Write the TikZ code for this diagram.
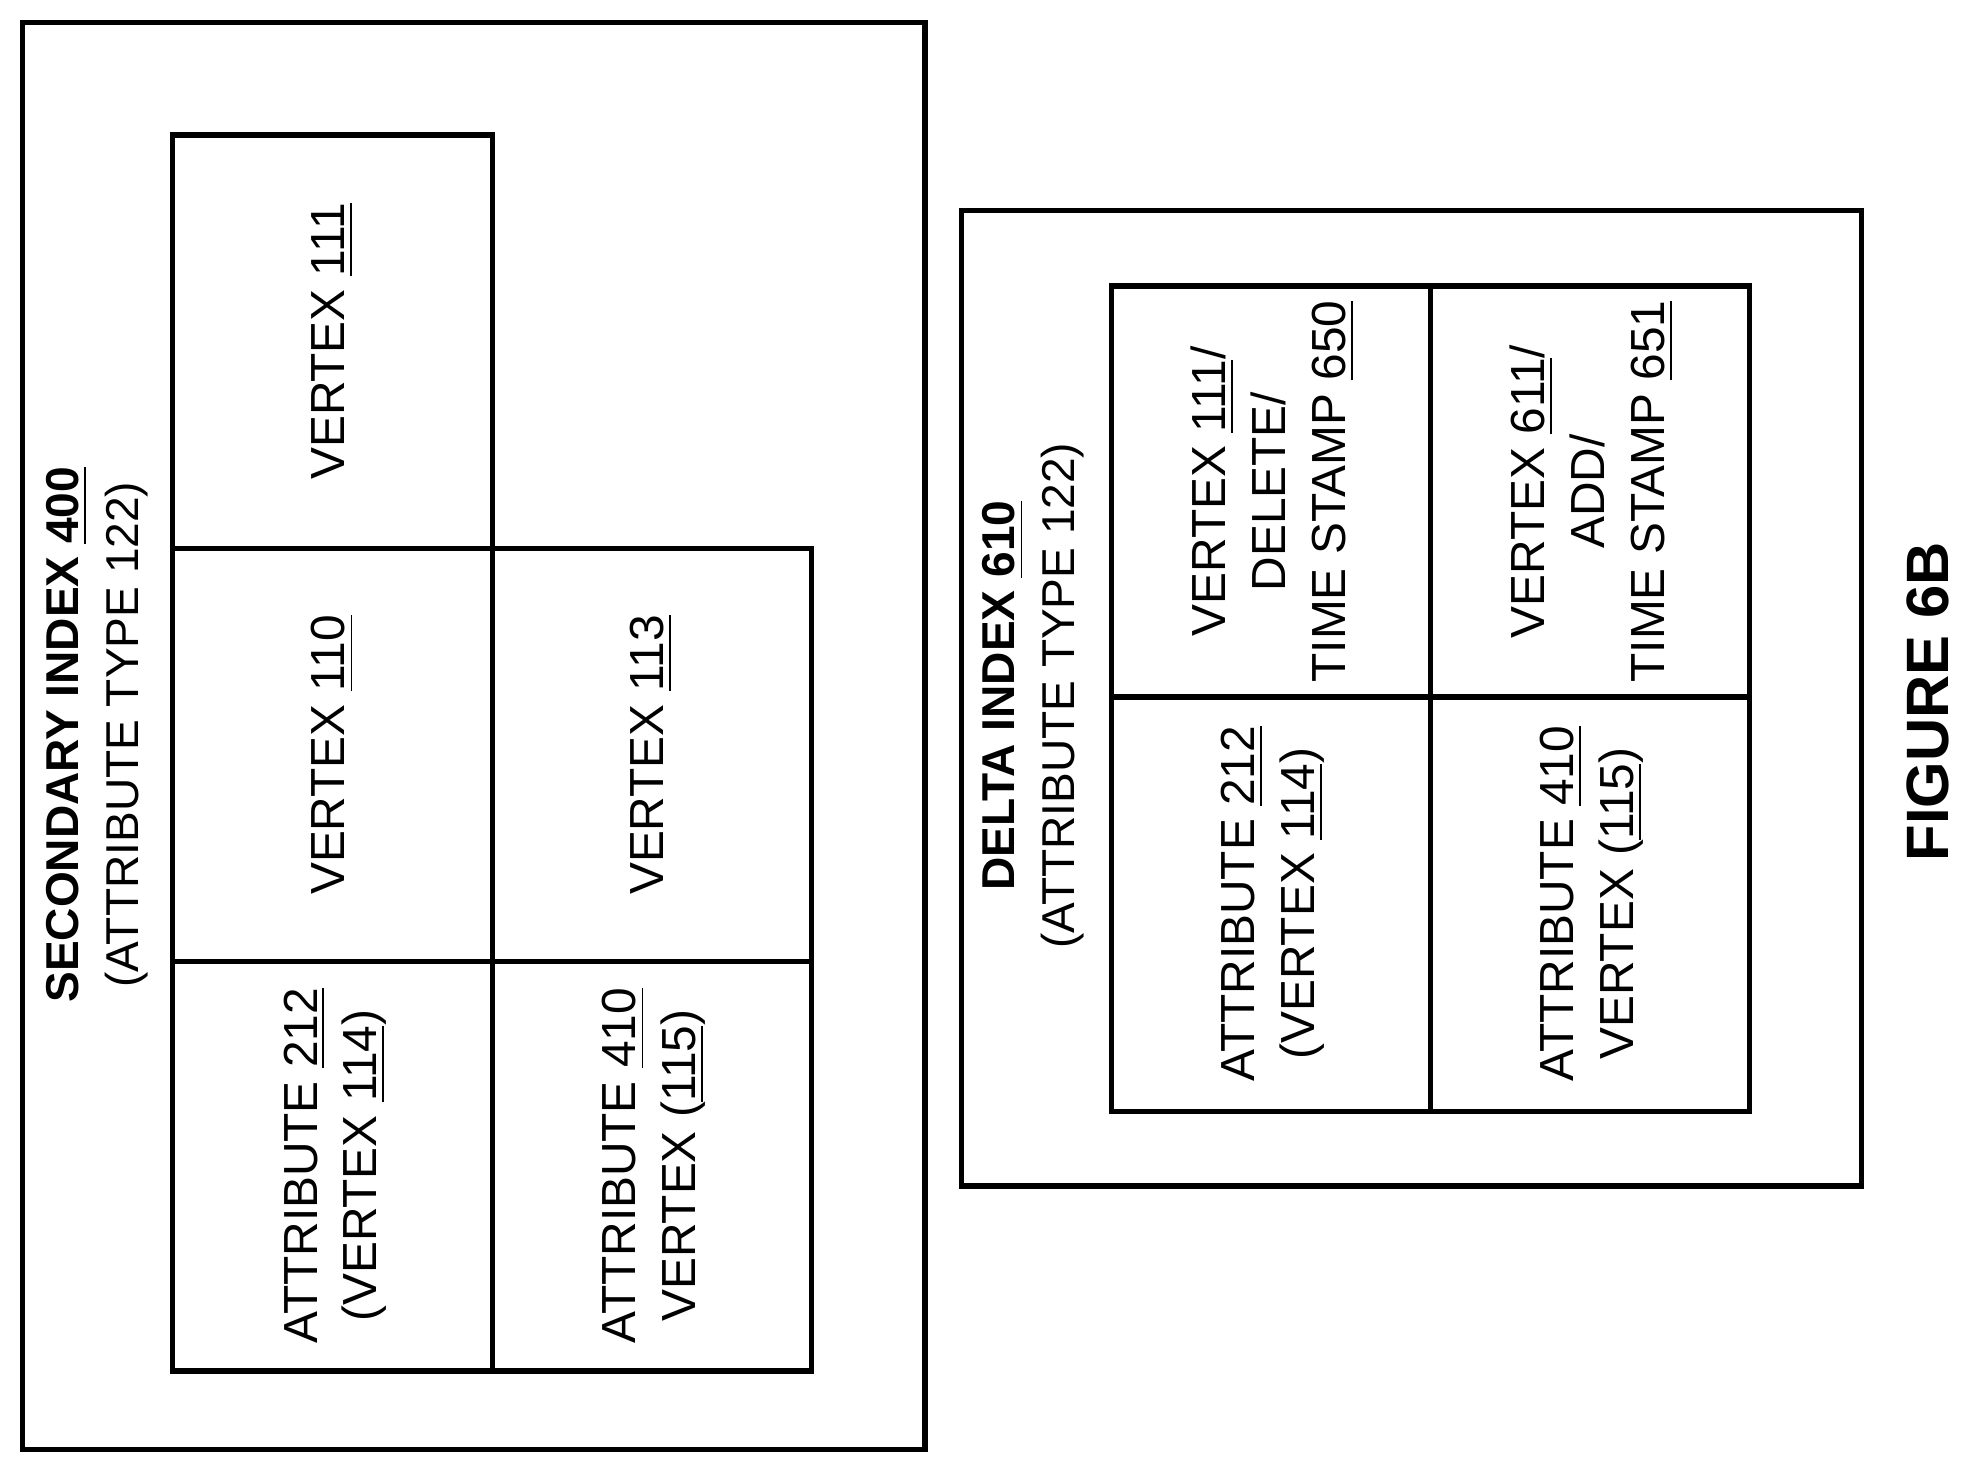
\documentclass[tikz,border=0pt]{standalone}
\usepackage{fontspec}
\setmainfont{Liberation Sans}
\begin{document}
\begin{tikzpicture}[x=0.1mm,y=-0.1mm,
  box/.style={draw,line width=1.2pt},
  txt/.style={rotate=90,align=center,font=\fontsize{10.8}{13.5}\selectfont},
  btxt/.style={rotate=90,align=center,font=\fontsize{10.4}{13.5}\selectfont}]
\useasboundingbox (0,0) rectangle (1568,1168);
% left
\draw[box] (18,18) rectangle (734,1150);
\node[btxt] (t1) at (77,583) {\textbf{SECONDARY INDEX \underline{400}}\\(ATTRIBUTE TYPE 122)};
\draw[box] (137,107) rectangle (391,435);
\draw[box] (137,435) rectangle (391,763);
\draw[box] (137,763) rectangle (391,1088);
\draw[box] (391,435) rectangle (644,763);
\draw[box] (391,763) rectangle (644,1088);
\node[txt] (v111) at (264,271) {VERTEX \underline{111}};
\node[txt] (v110) at (264,599) {VERTEX \underline{110}};
\node[txt] (v113) at (517,599) {VERTEX \underline{113}};
\node[txt] (a212) at (266,925) {ATTRIBUTE \underline{212}\\(VERTEX \underline{114})};
\node[txt] (a410) at (519,925) {ATTRIBUTE \underline{410}\\VERTEX (\underline{115})};
% right
\draw[box] (763,167) rectangle (1477,941);
\node[btxt] (t2) at (820,552) {\textbf{DELTA INDEX \underline{610}}\\(ATTRIBUTE TYPE 122)};
\draw[box] (882,227) rectangle (1135,553);
\draw[box] (1135,227) rectangle (1388,553);
\draw[box] (882,553) rectangle (1135,882);
\draw[box] (1135,553) rectangle (1388,882);
\node[txt] (d1) at (1010,390) {VERTEX \underline{111}/\\DELETE/\\TIME STAMP \underline{650}};
\node[txt] (d2) at (1263,390) {VERTEX \underline{611}/\\ADD/\\TIME STAMP \underline{651}};
\node[txt] (d3) at (1010,717) {ATTRIBUTE \underline{212}\\(VERTEX \underline{114})};
\node[txt] (d4) at (1263,717) {ATTRIBUTE \underline{410}\\VERTEX (\underline{115})};
\node[rotate=90,font=\fontsize{13.5}{16}\selectfont\bfseries] (fig) at (1530,557) {FIGURE 6B};
\end{tikzpicture}
\end{document}
